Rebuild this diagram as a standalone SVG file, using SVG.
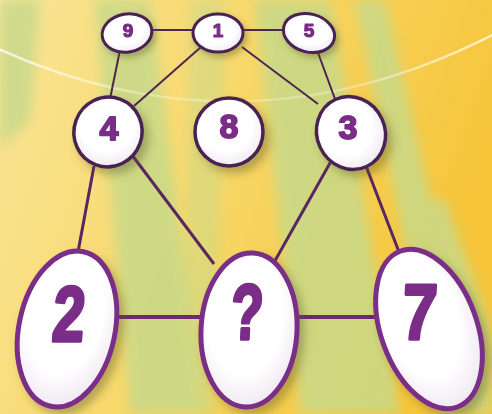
<svg xmlns="http://www.w3.org/2000/svg" width="492" height="414" viewBox="0 0 492 414">
<defs>
<linearGradient id="bg" x1="0" y1="0" x2="1" y2="0.3">
<stop offset="0" stop-color="#fae597"/>
<stop offset="0.5" stop-color="#f8d86a"/>
<stop offset="1" stop-color="#f6c53a"/>
</linearGradient>
<linearGradient id="arc" x1="0" y1="0" x2="1" y2="0">
<stop offset="0" stop-color="#ffffff" stop-opacity="0.8"/>
<stop offset="0.3" stop-color="#ffffff" stop-opacity="0.3"/>
<stop offset="0.7" stop-color="#ffffff" stop-opacity="0.3"/>
<stop offset="1" stop-color="#ffffff" stop-opacity="0.8"/>
</linearGradient>
<radialGradient id="fillg" cx="0.45" cy="0.4" r="0.65">
<stop offset="0.6" stop-color="#ffffff"/>
<stop offset="1" stop-color="#ede4f0"/>
</radialGradient>
<filter id="blur" x="-20%" y="-20%" width="140%" height="140%">
<feGaussianBlur stdDeviation="6"/>
</filter>
<filter id="sh" x="-30%" y="-30%" width="170%" height="170%">
<feDropShadow dx="5" dy="6" stdDeviation="4" flood-color="#5a5a20" flood-opacity="0.4"/>
</filter>
<filter id="shs" x="-30%" y="-30%" width="170%" height="170%">
<feDropShadow dx="3" dy="4" stdDeviation="3" flood-color="#5a5a20" flood-opacity="0.4"/>
</filter>
</defs>
<style>
.small ellipse{fill:url(#fillg);stroke:#4a2352;stroke-width:3}
.mid ellipse{fill:url(#fillg);stroke:#4a2352;stroke-width:3.5}
.big ellipse{fill:url(#fillg);stroke:#7a2d88;stroke-width:5}
.t{font-family:"Liberation Sans",Arial,sans-serif;font-weight:bold;fill:#7a2d88;stroke:#7a2d88;stroke-linejoin:round;text-anchor:middle}
.small .t{stroke-width:1.2}
.mid .t{stroke-width:1.8}
.big .t{stroke-width:3.5}
.thin{stroke:#4e2550;stroke-width:2;fill:none}
.thick{stroke:#5a2660;stroke-width:3;fill:none}
.bold{stroke:#6a2a74;stroke-width:4;fill:none}
</style>
<rect width="492" height="414" fill="url(#bg)"/>
<g filter="url(#blur)" fill="#c7d98a" opacity="0.85">
<polygon points="0,0 40,0 30,120 0,150"/>
<polygon points="95,0 150,0 205,414 130,414"/>
<polygon points="190,0 225,0 215,414 185,414" opacity="0.6"/>
<polygon points="255,0 330,0 400,414 300,414"/>
<polygon points="355,0 385,0 480,414 440,414"/>
<polygon points="420,200 445,200 492,330 492,414 470,414"/>
</g>
<path d="M -10 45 Q 246 165 502 30" stroke="url(#arc)" stroke-width="2.5" fill="none"/>
<g id="connectors">
<line class="thin" x1="150" y1="30" x2="196" y2="30"/>
<line class="thin" x1="240" y1="30" x2="286" y2="30"/>
<line class="thin" x1="120" y1="50" x2="110" y2="99"/>
<line class="thin" x1="201" y1="47" x2="134" y2="106"/>
<line class="thin" x1="242" y1="47" x2="318" y2="104"/>
<line class="thin" x1="317" y1="50" x2="335" y2="99"/>
<line class="thick" x1="94" y1="166" x2="78" y2="252"/>
<line class="thick" x1="132" y1="155" x2="214" y2="264"/>
<line class="thick" x1="334" y1="156" x2="272" y2="266"/>
<line class="thick" x1="366" y1="166" x2="399" y2="252"/>
<line class="bold" x1="116" y1="317" x2="202" y2="317"/>
<line class="bold" x1="296" y1="317" x2="378" y2="317"/>
</g>
<g id="node9" class="small" filter="url(#shs)">
<ellipse cx="127" cy="33" rx="25" ry="19" transform="rotate(-10 127 33)"/>
<text class="t" x="128" y="37" font-size="19">9</text>
</g>
<g id="node1" class="small" filter="url(#shs)">
<ellipse cx="218" cy="33" rx="25" ry="19"/>
<text class="t" x="218" y="37" font-size="19">1</text>
</g>
<g id="node5" class="small" filter="url(#shs)">
<ellipse cx="309" cy="33" rx="26" ry="19" transform="rotate(15 309 33)"/>
<text class="t" x="309" y="37" font-size="19">5</text>
</g>
<g id="node4" class="mid" filter="url(#sh)">
<ellipse cx="108" cy="132" rx="34" ry="35" transform="rotate(20 108 132)"/>
<text class="t" x="109" y="140" font-size="34">4</text>
</g>
<g id="node8" class="mid" filter="url(#sh)">
<ellipse cx="229" cy="132" rx="34" ry="34"/>
<text class="t" x="229" y="138" font-size="34">8</text>
</g>
<g id="node3" class="mid" filter="url(#sh)">
<ellipse cx="351" cy="133" rx="34" ry="37" transform="rotate(-25 351 133)"/>
<text class="t" x="348" y="139" font-size="34">3</text>
</g>
<g id="node2" class="big" filter="url(#sh)">
<ellipse cx="67" cy="329" rx="48" ry="79" transform="rotate(12 67 329)"/>
<text class="t" font-size="78" transform="translate(67 341) scale(0.74 1) skewX(-6)">2</text>
</g>
<g id="nodeQ" class="big" filter="url(#sh)">
<ellipse cx="249" cy="330" rx="48" ry="77" transform="rotate(3 249 330)"/>
<text class="t" font-size="78" transform="translate(246 339) scale(0.68 1) skewX(-4)">?</text>
</g>
<g id="node7" class="big" filter="url(#sh)">
<ellipse cx="429" cy="329" rx="48" ry="83" transform="rotate(-20 429 329)"/>
<text class="t" font-size="78" transform="translate(418 339) scale(0.8 1) skewX(-4)">7</text>
</g>
</svg>
